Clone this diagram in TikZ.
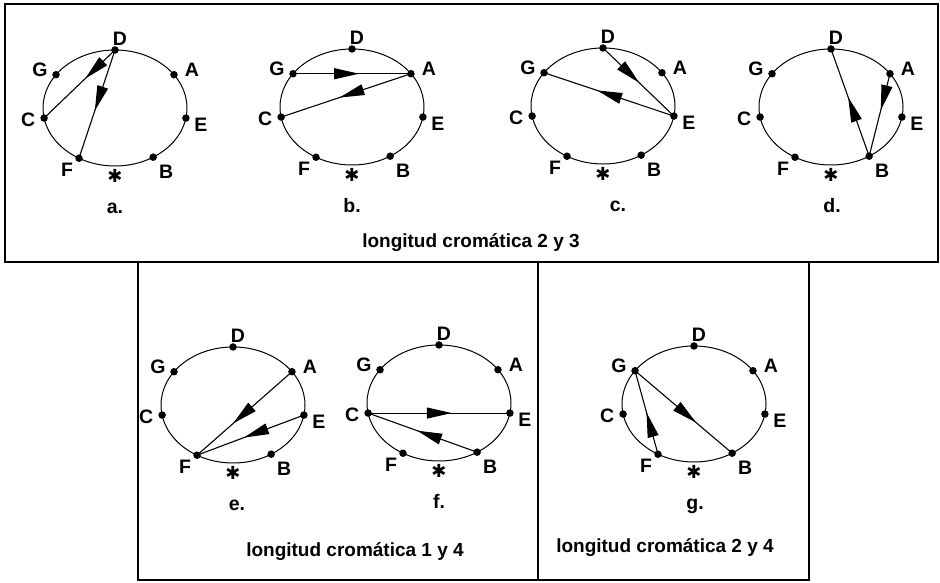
\documentclass[tikz,border=0pt]{standalone}
\usepackage{fontspec}
\setmainfont{Liberation Sans}
\newfontfamily\djvfont{DejaVu Sans}
\usetikzlibrary{arrows.meta,decorations.markings}
\tikzset{
  circ/.style={line width=1pt},
  dot/.style={circle,fill=black,inner sep=0pt,minimum size=7.5pt},
  lab/.style={font=\fontsize{19.5}{19.5}\selectfont\bfseries,inner sep=0pt},
  sublab/.style={font=\fontsize{19.5}{19.5}\selectfont\bfseries,inner sep=0pt,anchor=base},
  caplab/.style={font=\fontsize{19}{19}\selectfont\bfseries,inner sep=0pt,anchor=base},
  starlab/.style={font=\djvfont\fontsize{18}{18}\selectfont,inner sep=0pt},
  chord/.style={line width=1.1pt},
  midarrow/.style={postaction={decorate},decoration={markings,mark=at position #1 with {\arrow{Triangle[length=25pt,width=11pt]}}}},
  frame/.style={line width=2.2pt}
}
\newcommand\mydiag[5]{%
  \begin{scope}[shift={(#2,#3)}]
    \draw[circ] (0,0) ellipse [x radius=72, y radius=58];
    \foreach \n/\ang/\lx/\ly in {D/90/5/11, A/35/18/5, E/350/15/-7, B/302/13/-15, F/240/-12/-12, C/190/-16/-2, G/145/-16/5}{
      \node[dot] (#1\n) at ({72*cos(\ang)},{58*sin(\ang)}) {};
      \node[lab] (#1\n-l) at ({72*cos(\ang)+\lx},{58*sin(\ang)+\ly}) {\n};
    }
    \node[starlab] (#1star) at (0,-68) {✱};
    \node[sublab] (#1sub) at (#5,-106) {#4};
  \end{scope}}
\begin{document}
\begin{tikzpicture}[x=1pt,y=1pt]
  \useasboundingbox (0,0) rectangle (940,583);
  \draw[frame] (5,321) rectangle (938,579);
  \draw[frame] (138,3) rectangle (538,321);
  \draw[frame] (538,3) rectangle (809,321);

  \mydiag{a}{115}{475}{a.}{0}
  \mydiag{b}{352}{476}{b.}{0}
  \mydiag{c}{603}{477}{c.}{15}
  \mydiag{d}{831}{476}{d.}{1}
  \mydiag{e}{233}{178}{e.}{4}
  \mydiag{f}{439}{180}{f.}{0}
  \mydiag{g}{694}{179}{g.}{1}

  \draw[chord,midarrow=0.42] (aD.center) -- (aC.center);
  \draw[chord,midarrow=0.56] (aD.center) -- (aF.center);
  \draw[chord,midarrow=0.56] (bG.center) -- (bA.center);
  \draw[chord,midarrow=0.55] (bA.center) -- (bC.center);
  \draw[chord,midarrow=0.51] (cD.center) -- (cE.center);
  \draw[chord,midarrow=0.59] (cE.center) -- (cG.center);
  \draw[chord,midarrow=0.44] (dA.center) -- (dB.center);
  \draw[chord,midarrow=0.55] (dB.center) -- (dD.center);
  \draw[chord,midarrow=0.62] (eA.center) -- (eF.center);
  \draw[chord,midarrow=0.56] (eE.center) -- (eF.center);
  \draw[chord,midarrow=0.59] (fC.center) -- (fE.center);
  \draw[chord,midarrow=0.55] (fB.center) -- (fC.center);
  \draw[chord,midarrow=0.63] (gG.center) -- (gB.center);
  \draw[chord,midarrow=0.50] (gF.center) -- (gG.center);

  \node[caplab] (cap1) at (471,335) {longitud cromática 2 y 3};
  \node[caplab] (cap2) at (355,26) {longitud cromática 1 y 4};
  \node[caplab] (cap3) at (665,30) {longitud cromática 2 y 4};
\end{tikzpicture}
\end{document}
